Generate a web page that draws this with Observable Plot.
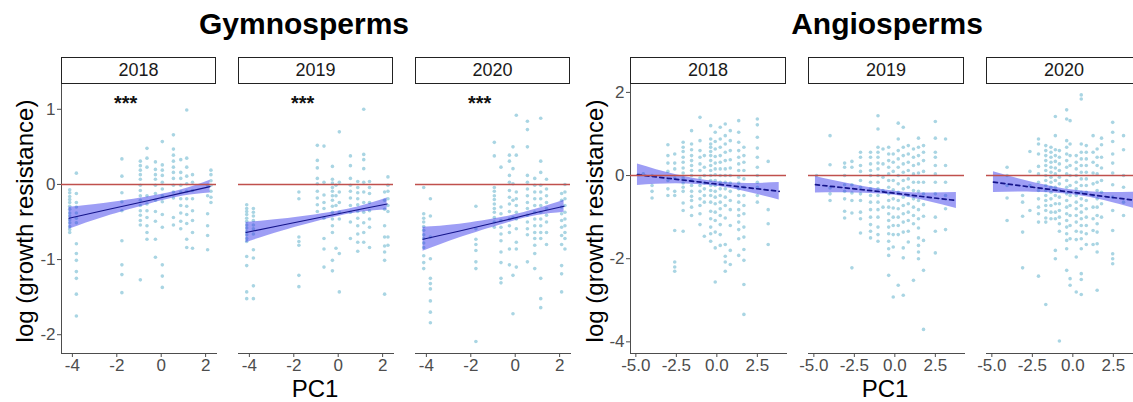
<!DOCTYPE html>
<html>
<head>
<meta charset="utf-8">
<script src="https://cdn.jsdelivr.net/npm/d3@7"></script>
<script src="https://cdn.jsdelivr.net/npm/@observablehq/plot@0.6"></script>
<style>
  body { margin: 0; background: #fff; }
  #fig { position: relative; width: 1133px; height: 402px; overflow: hidden;
         font-family: "Liberation Sans", Arial, sans-serif; background: #fff; }
  .title { position: absolute; font-weight: bold; font-size: 30px; line-height: 30px;
           white-space: nowrap; transform: translateX(-50%); color: #000; }
  .strip { position: absolute; box-sizing: border-box; top: 57px; height: 27px;
           border: 1.5px solid #222; background: #fff; text-align: center;
           font-size: 18px; line-height: 24px; color: #1a1a1a; }
  .ylab { position: absolute; font-size: 24px; line-height: 24px; white-space: nowrap;
          transform: translate(-50%, -50%) rotate(-90deg); color: #000; }
  .xlab { position: absolute; font-size: 24px; line-height: 22px; white-space: nowrap;
          transform: translateX(-50%); color: #000; }
  .panel { position: absolute; }
</style>
</head>
<body>
<div id="fig"></div>
<script>
// ---------------- data ----------------
const years = ["2018", "2019", "2020"];

// Gymnosperms: each entry is [PC1 of the site, log growth resistance of its trees]
const gymno2018 = [
  [-4.12, [-0.07,-0.11,-0.16,-0.20,-0.24,-0.29,-0.33,-0.38,-0.42,-0.47,-0.51,-0.56,-0.60,-0.64]],
  [-3.82, [0.15,-0.12,-0.24,-0.30,-0.38,-0.45,-0.51,-0.79,-0.92,-1.01,-1.16,-1.25,-1.46,-1.75]],
  [-1.77, [0.34,0.11,-0.11,-0.23,-0.35,-0.75,-1.07,-1.20,-1.44]],
  [-0.94, [0.31,0.25,0.19,0.13,0.07,-0.01,-0.08,-0.15,-0.21,-0.28,-0.35,-0.41,-0.48,-0.54,-1.27]],
  [-0.64, [0.48,0.35,0.23,-0.15,-0.26,-0.35,-0.44,-0.55,-0.64,-0.73]],
  [-0.26, [0.30,0.20,0.13,0.07,-0.01,-0.12,-0.21,-0.36,-0.49,-0.73,-0.97]],
  [0.05, [0.57,0.26,0.19,0.12,0.03,-0.06,-0.15,-0.23,-0.40,-0.57,-1.07,-1.22,-1.37]],
  [0.55, [0.66,0.47,0.39,0.31,0.23,0.16,0.08,-0.01,-0.10,-0.18,-0.44,-0.54]],
  [0.88, [0.33,0.16,0.08,-0.01,-0.10,-0.19,-0.28,-0.38,-0.49,-0.59]],
  [1.15, [0.99,0.35,0.23,0.11,0.01,-0.09,-0.19,-0.29,-0.40,-0.52,-0.73,-0.84]],
  [1.41, [0.13,0.03,-0.08,-0.19,-0.35,-0.48,-0.64,-0.85]],
  [2.09, [-0.01,-0.15,-0.39,-0.55,-0.68,-0.87]],
  [2.24, [0.19,0.13,0.05,-0.01,-0.09,-0.17,-0.24]]
];
const gymno2019 = [
  [-4.12, [-0.27,-0.32,-0.36,-0.40,-0.45,-0.49,-0.54,-0.58,-0.63,-0.67,-0.72,-0.76,-0.96,-1.08,-1.43,-1.52]],
  [-3.82, [-0.32,-0.37,-0.42,-0.48,-0.54,-0.59,-0.66,-0.87,-0.98,-1.35,-1.52]],
  [-1.77, [-0.10,-0.19,-0.70,-0.76,-0.81,-1.21,-1.36]],
  [-0.94, [0.52,0.32,0.22,0.08,0.01,-0.09,-0.18,-0.27,-0.36]],
  [-0.64, [0.51,0.03,-0.14,-0.24,-0.32,-0.45,-0.72,-0.86,-1.10]],
  [-0.26, [0.24,0.07,0.02,-0.04,-0.09,-0.15,-0.21,-0.29,-0.37,-0.46,-0.55,-0.64,-1.01,-1.15]],
  [-0.10, [-0.01,-0.15,-0.28,-0.85]],
  [0.05, [0.70,0.03,-0.10,-0.24,-0.37,-0.46,-0.92,-1.43]],
  [0.55, [0.38,0.25,0.08,-0.01,-0.09,-0.18,-0.28,-0.37,-0.50,-0.72]],
  [0.88, [0.04,-0.04,-0.11,-0.19,-0.27,-0.36,-0.45,-0.55,-0.66,-0.77,-0.89]],
  [1.15, [1.00,0.40,0.33,0.21,0.03,-0.10,-0.24,-0.37,-0.51,-0.64,-0.77]],
  [1.41, [0.04,-0.04,-0.12,-0.24,-0.35,-0.46,-0.57,-0.84]],
  [2.09, [-0.10,-0.21,-0.33,-0.55,-0.70,-0.82,-0.90,-1.01,-1.46]],
  [2.24, [0.10,-0.01,-0.09,-0.19,-0.28,-0.36,-0.70,-0.81]]
];
const gymno2020 = [
  [-4.12, [-0.04,-0.39,-0.45,-0.50,-0.56,-0.61,-0.67,-0.72,-0.78,-0.84,-0.95,-1.04,-1.12]],
  [-3.82, [-0.19,-0.42,-0.70,-0.99,-1.25,-1.32,-1.39,-1.55,-1.70,-1.84]],
  [-1.77, [-0.29,-0.59,-0.73,-0.80,-0.88,-1.03,-1.12,-2.09]],
  [-0.94, [0.56,0.38,-0.04,-0.09,-0.15,-0.20,-0.26,-0.32,-0.37,-0.44,-0.50,-0.57]],
  [-0.64, [0.23,-0.30,-0.39,-0.48,-0.57,-0.66,-0.75,-0.90,-1.04,-1.25,-1.31]],
  [-0.26, [0.39,0.31,0.12,0.03,-0.08,-0.17,-0.26,-0.36,-0.46,-0.55,-0.64,-0.86,-1.07]],
  [-0.10, [0.50,0.21,0.01,-0.21,-0.44,-1.21,-1.72]],
  [0.05, [0.92,0.39,-0.10,-0.19,-0.28,-0.37,-0.46,-0.59,-0.77,-0.86,-1.10]],
  [0.55, [0.84,0.73,0.50,0.12,0.03,-0.06,-0.15,-0.24,-0.32,-0.41,-0.50,-0.59,-0.67,-1.03]],
  [0.88, [0.08,-0.01,-0.10,-0.19,-0.28,-0.37,-0.46,-0.55,-0.64,-0.72,-0.81,-0.92,-1.12]],
  [1.15, [0.88,0.31,0.16,-0.01,-0.10,-0.19,-0.28,-0.37,-0.46,-0.55,-0.64,-0.72,-1.25,-1.52,-1.64]],
  [1.41, [0.07,-0.06,-0.15,-0.24,-0.32,-0.41,-0.50,-0.64,-0.80]],
  [2.09, [-0.12,-0.21,-0.30,-0.39,-0.48,-0.57,-0.68,-0.80,-1.08,-1.19,-1.43]],
  [2.24, [0.00,-0.10,-0.19,-0.28,-0.37,-0.46,-0.55,-0.64,-0.72,-0.86]]
];

// Angiosperms
const angio2018 = [
  [-4.83, [0.02]],
  [-4.54, [0.04]],
  [-4.00, [0.00,-0.24,-0.38,-0.54]],
  [-3.02, [0.74,0.48,0.30,0.10,-0.12,-0.32,-0.48]],
  [-2.60, [0.52,0.30,0.16,-0.06,-0.38,-0.48,-1.32,-2.08,-2.20,-2.30]],
  [-2.08, [0.80,0.68,0.58,0.44,0.32,0.18,0.06,-0.06,-0.18,-0.28,-0.38,-0.66,-0.84,-1.34]],
  [-1.56, [1.08,0.76,0.62,0.48,0.36,0.24,0.12,0.00,-0.12,-0.24,-0.38,-0.50,-0.60,-0.76,-0.96]],
  [-1.04, [1.40,0.84,0.60,0.44,0.28,0.12,-0.06,-0.24,-0.38,-0.56,-0.72,-0.92,-1.18]],
  [-0.77, [0.48,0.20,0.00,-0.18,-0.32,-0.48,-0.64,-1.46]],
  [-0.38, [1.20,0.88,0.76,0.68,0.58,0.48,0.36,0.24,0.12,0.00,-0.12,-0.24,-0.36,-0.48,-0.64,-0.86,-1.04,-1.24,-1.40,-1.58]],
  [-0.10, [1.04,0.82,0.64,0.46,0.30,0.16,0.02,-0.12,-0.24,-0.38,-0.52,-0.68,-0.88,-1.08,-1.36,-1.74,-2.56]],
  [0.21, [1.16,0.88,0.68,0.48,0.32,0.16,0.00,-0.16,-0.32,-0.48,-0.64,-0.80,-0.96,-1.18,-1.42,-1.68]],
  [0.52, [1.24,0.96,0.76,0.56,0.36,0.16,0.00,-0.16,-0.32,-0.52,-0.72,-1.02,-1.66,-1.94,-2.08,-2.30]],
  [0.83, [1.08,0.84,0.60,0.38,0.18,0.00,-0.18,-0.38,-0.60,-0.82,-1.20,-1.80,-2.14]],
  [1.35, [1.32,1.04,0.80,0.60,0.44,0.28,0.12,-0.04,-0.18,-0.32,-0.48,-0.64,-0.82,-0.96,-1.12,-1.30,-1.52,-1.92]],
  [1.67, [0.68,0.48,0.32,0.12,-0.08,-0.28,-0.48,-0.72,-0.92,-1.24,-1.48,-1.78,-2.04,-2.62,-3.34]],
  [2.50, [1.36,1.22,0.92,0.66,0.44,0.20,0.00,-0.16,-0.28,-0.48,-0.64]],
  [3.17, [0.34,-0.82,-1.16,-1.66]]
];
const angio2019 = [
  [-4.83, [0.00]],
  [-4.00, [0.96,0.26,-0.30,-0.44,-0.60]],
  [-3.10, [0.30,0.20,0.00,-0.22,-0.38,-0.56,-0.86,-1.02]],
  [-2.65, [0.34,0.20,-0.22,-0.42,-0.60,-0.90,-2.22]],
  [-2.12, [0.56,0.44,0.24,0.10,-0.12,-0.28,-0.44,-0.60,-0.88,-1.04,-1.38]],
  [-1.50, [0.56,0.44,0.28,0.12,0.00,-0.16,-0.32,-0.48,-0.64,-0.82,-1.00,-1.18,-1.34,-1.50]],
  [-1.04, [1.44,1.12,0.68,0.56,0.44,0.30,0.16,0.00,-0.16,-0.32,-0.48,-0.64,-0.82,-1.00,-1.24,-1.42,-1.58]],
  [-0.73, [0.64,0.28,-0.04,-0.36,-0.76]],
  [-0.38, [0.68,0.52,0.36,0.20,0.04,-0.12,-0.28,-0.44,-0.60,-0.76,-0.92,-1.08,-1.24,-1.40,-1.58,-1.76,-1.92,-2.40]],
  [-0.10, [0.52,0.32,0.10,-0.12,-0.34,-0.56,-0.78,-1.00,-1.20,-1.42,-1.72,-2.92]],
  [0.21, [1.26,0.88,0.60,0.40,0.20,0.00,-0.20,-0.40,-0.60,-0.80,-1.00,-1.20,-1.42,-2.64]],
  [0.52, [1.16,0.68,0.48,0.28,0.08,-0.12,-0.32,-0.52,-0.72,-0.92,-1.12,-1.36,-1.74,-1.98,-2.88]],
  [0.83, [0.72,0.52,0.32,0.12,-0.08,-0.28,-0.48,-0.68,-0.88,-1.08,-1.34,-1.60]],
  [1.15, [0.64,0.44,0.24,0.04,-0.16,-0.36,-0.56,-0.76,-0.96,-1.16,-2.52]],
  [1.46, [0.90,0.68,0.48,0.28,0.06,-0.16,-0.38,-0.60,-0.82,-1.04,-1.26,-1.50,-1.68,-1.84,-2.00]],
  [1.77, [0.72,0.56,0.36,0.10,-0.16,-0.44,-0.70,-0.98,-1.56,-2.28,-3.70]],
  [2.50, [1.30,0.90,0.56,0.44,0.24,0.04,-0.16,-0.44,-1.00,-1.34,-1.86]],
  [3.13, [0.88,0.24,-0.16,-0.48,-0.80,-1.30]]
];
const angio2020 = [
  [-4.06, [0.20,0.00,-0.24,-0.54,-1.08]],
  [-3.10, [-0.48,-0.64,-0.98,-1.36,-2.22]],
  [-2.65, [0.58,0.10,-0.24,-0.84]],
  [-2.12, [0.88,0.76,0.52,0.22,0.04,-0.16,-0.36,-0.56,-0.76,-0.92,-1.12,-2.42]],
  [-1.67, [0.72,0.60,0.48,0.36,0.24,0.12,0.00,-0.12,-0.24,-0.36,-0.48,-0.60,-0.72,-0.84,-1.02,-1.12,-3.10]],
  [-1.35, [0.68,0.56,0.44,0.32,0.20,0.08,-0.04,-0.16,-0.28,-0.40,-0.56,-0.72,-0.88,-1.04]],
  [-1.08, [1.42,0.96,0.62,0.48,0.34,0.18,0.04,-0.12,-0.28,-0.48,-0.68,-0.88,-1.04,-1.80,-2.00]],
  [-0.83, [0.60,0.44,0.28,0.12,-0.04,-0.20,-0.36,-0.52,-0.68,-0.84,-1.00,-1.16,-1.34,-3.98]],
  [-0.38, [1.58,1.36,0.84,0.68,0.52,0.36,0.20,0.04,-0.12,-0.28,-0.44,-0.60,-0.76,-0.92,-1.08,-1.24,-1.40,-1.56,-1.76,-2.28]],
  [-0.17, [1.32,0.76,0.48,0.24,0.00,-0.24,-0.48,-0.72,-0.96,-1.20,-1.52,-2.48,-2.64]],
  [0.21, [0.48,0.32,0.16,0.00,-0.16,-0.32,-0.48,-0.64,-0.80,-0.96,-1.12,-1.34,-1.54,-1.96,-2.80]],
  [0.52, [1.94,1.84,0.76,0.56,0.40,0.24,0.08,-0.08,-0.24,-0.40,-0.56,-0.72,-0.88,-1.04,-1.20,-1.36,-1.52,-1.76,-2.36,-2.50,-2.86]],
  [0.83, [0.72,0.56,0.40,0.24,0.08,-0.08,-0.24,-0.40,-0.60,-0.80,-1.00,-1.20,-1.40,-1.66]],
  [1.25, [0.96,0.56,0.32,0.06,-0.20,-0.48,-0.76,-1.04,-1.32,-1.66]],
  [1.50, [0.64,0.44,0.24,0.04,-0.16,-0.36,-0.56,-0.76,-0.96,-1.16,-1.36,-1.64,-1.84,-2.76]],
  [1.77, [0.90,0.74,0.44,0.18,-0.12,-0.40,-0.68,-1.00]],
  [2.46, [1.28,1.04,0.82,0.52,0.30,0.06,-0.22,-0.52,-0.84,-1.32,-1.88,-2.00,-2.12]],
  [3.13, [0.96,0.62,0.00,-0.28,-0.64,-0.96]]
];

// Fitted trend and 95% band, sampled along PC1
const gymnoFitX = [-4.15, -2.5, -0.5, 1, 2.2];
const gymnoFit  = [[-0.45,-0.34,-0.21,-0.11,-0.03], [-0.64,-0.54,-0.42,-0.33,-0.26], [-0.73,-0.62,-0.48,-0.37,-0.29]];
const gymnoLow  = [[-0.595,-0.43,-0.26,-0.155,-0.115], [-0.775,-0.62,-0.46,-0.37,-0.34], [-0.89,-0.71,-0.525,-0.415,-0.37]];
const gymnoHigh = [[-0.305,-0.25,-0.16,-0.065,0.055], [-0.505,-0.46,-0.38,-0.29,-0.18], [-0.57,-0.53,-0.435,-0.325,-0.21]];

const angioFitX = [[-4.9,-2.5,0,2,3.85], [-4.9,-2.5,0,2,3.8], [-4.9,-2.5,0,2,4.2]];
const angioFit  = [[0.02,-0.09,-0.205,-0.297,-0.38], [-0.22,-0.32,-0.425,-0.52,-0.60], [-0.16,-0.28,-0.405,-0.505,-0.615]];
const angioLow  = [[-0.24,-0.20,-0.26,-0.41,-0.59], [-0.42,-0.42,-0.475,-0.62,-0.79], [-0.41,-0.40,-0.46,-0.605,-0.835]];
const angioHigh = [[0.28,0.02,-0.15,-0.19,-0.17], [-0.02,-0.22,-0.375,-0.42,-0.41], [0.09,-0.16,-0.35,-0.405,-0.395]];

// significance label per gymnosperm year
const gymnoSig = ["***", "***", "***"];
const sigX = -1.6, sigY = 1.08;

const gymnoXTicks = [-4, -2, 0, 2];
const gymnoYTicks = [-2, -1, 0, 1];
const angioXTicks = [-5, -2.5, 0, 2.5];
const angioYTicks = [-4, -2, 0, 2];

// ---------------- drawing ----------------
const fig = document.getElementById("fig");
const FONT = '"Liberation Sans", Arial, sans-serif';
const PANEL_TOP = 84, PANEL_H = 269;

function flatten(cols) {
  const out = [];
  for (const [x, ys] of cols) for (const y of ys) out.push({x, y});
  return out;
}

function panel(o) {
  const mL = o.showY ? 42 : 20, mR = 20, mT = 4, mB = 24;
  const pts = flatten(o.cols);
  const fit = o.fitX.map((x, i) => ({x, fit: o.fit[i], lo: o.low[i], hi: o.high[i]}));
  const marks = [
    Plot.dot(pts, {x: "x", y: "y", r: 1.8, fill: "#a9d5e3", stroke: "none"}),
    Plot.areaY(fit, {x: "x", y1: "lo", y2: "hi", fill: "#3030ea", fillOpacity: 0.47, curve: "natural"}),
    Plot.line(fit, {x: "x", y: "fit", stroke: "#14148a", strokeWidth: o.dashed ? 1.7 : 1.2,
                    strokeDasharray: o.dashed ? "4,3.5" : null}),
    Plot.ruleY([0], {stroke: "#c0504d", strokeWidth: 1.5})
  ];
  if (o.sig) marks.push(Plot.text([{x: sigX, y: sigY, t: o.sig}],
    {x: "x", y: "y", text: "t", fontSize: 20, fill: "#111", fontWeight: "bold"}));
  const svg = Plot.plot({
    width: o.width + mL + mR,
    height: PANEL_H + mT + mB,
    marginLeft: mL, marginRight: mR, marginTop: mT, marginBottom: mB,
    style: {background: "transparent", overflow: "visible", fontFamily: FONT, fontSize: "17px", color: "#4d4d4d"},
    x: {domain: o.xDomain, ticks: o.xTicks, tickFormat: o.xFmt, label: null, line: true, tickSize: 4, tickPadding: 1},
    y: o.showY
      ? {domain: o.yDomain, ticks: o.yTicks, tickFormat: d => String(d), label: null, line: true, tickSize: 4, tickPadding: 2}
      : {domain: o.yDomain, axis: null},
    marks
  });
  svg.classList.add("panel");
  svg.style.left = (o.left - mL) + "px";
  svg.style.top = (PANEL_TOP - mT) + "px";
  fig.appendChild(svg);

  const strip = document.createElement("div");
  strip.className = "strip";
  strip.style.left = o.left + "px";
  strip.style.width = o.width + "px";
  strip.textContent = o.year;
  fig.appendChild(strip);
}

function label(cls, text, x, y) {
  const d = document.createElement("div");
  d.className = cls;
  d.textContent = text;
  d.style.left = x + "px";
  d.style.top = y + "px";
  fig.appendChild(d);
}

const gymnoCols = [gymno2018, gymno2019, gymno2020];
const gymnoLeft = [61, 238, 415];
const angioCols = [angio2018, angio2019, angio2020];
const angioLeft = [630, 808, 986];

years.forEach((year, i) => {
  panel({
    year, cols: gymnoCols[i], left: gymnoLeft[i], width: 155, showY: i === 0,
    xDomain: [-4.49, 2.49], yDomain: [-2.25, 1.33],
    xTicks: gymnoXTicks, yTicks: gymnoYTicks, xFmt: d => String(d),
    fitX: gymnoFitX, fit: gymnoFit[i], low: gymnoLow[i], high: gymnoHigh[i],
    dashed: false, sig: gymnoSig[i]
  });
});
years.forEach((year, i) => {
  panel({
    year, cols: angioCols[i], left: angioLeft[i], width: 156, showY: i === 0,
    xDomain: [-5.33, 4.3], yDomain: [-4.28, 2.19],
    xTicks: angioXTicks, yTicks: angioYTicks, xFmt: d => d.toFixed(1),
    fitX: angioFitX[i], fit: angioFit[i], low: angioLow[i], high: angioHigh[i],
    dashed: true, sig: null
  });
});

label("title", "Gymnosperms", 304, 9);
label("title", "Angiosperms", 887, 9);
label("ylab", "log (growth resistance)", 25, 221);
label("ylab", "log (growth resistance)", 595, 221);
label("xlab", "PC1", 315, 378);
label("xlab", "PC1", 885, 378);
</script>
</body>
</html>
